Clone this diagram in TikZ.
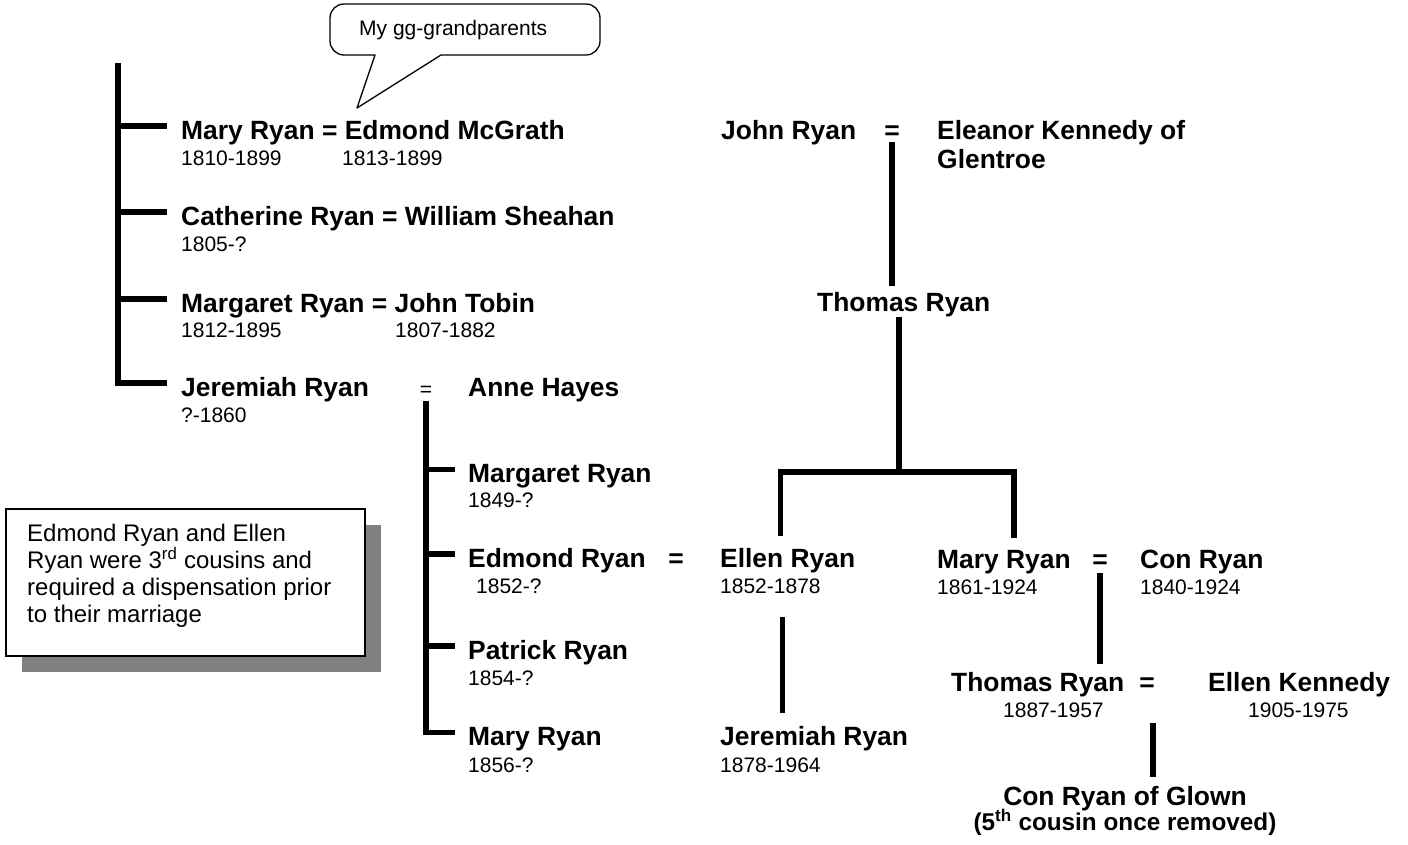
\documentclass[tikz,border=0pt]{standalone}
\usepackage{fontspec}
\setmainfont{Liberation Sans}
\usetikzlibrary{shadows}

\tikzset{
  person/.style={anchor=base west, inner sep=0pt, font=\fontsize{26.4}{29}\selectfont\bfseries},
  years/.style={anchor=base west, inner sep=0pt, font=\fontsize{21}{24}\selectfont},
  wed/.style={anchor=base, inner sep=0pt, font=\fontsize{26.4}{29}\selectfont\bfseries},
  kin/.style={line width=5.5pt},
}

\begin{document}
\begin{tikzpicture}[x=1pt, y=-1pt]
%\draw[help lines, step=100] (0,0) grid (1408,844);
\useasboundingbox (0,0) rectangle (1408,844);
%%%%%%%%%%%%%%%%%%%%%%%%%%%%%%% speech bubble
\coordinate (tip) at (357,108);
\draw[line width=1.3pt, line join=round] (375,55) -- (tip) -- (441,55) [rounded corners=14pt] -- (600,55) -- (600,4) -- (330,4) -- (330,55) [sharp corners] -- cycle;
\node(bubble) [years] at (359,35) {My gg-grandparents};
%%%%%%%%%%%%%%%%%%%%%%%%%%%%%%% first generation
\node(mary) [person] at (181,139) {Mary Ryan = Edmond McGrath};
\node(maryD) [years] at (181,165) {1810-1899};
\node(edmMD) [years] at (342,165) {1813-1899};
\node(cath) [person] at (181,225) {Catherine Ryan = William Sheahan};
\node(cathD) [years] at (181,251) {1805-?};
\node(marg) [person] at (181,312) {Margaret Ryan = John Tobin};
\node(margD) [years] at (181,337) {1812-1895};
\node(tobinD) [years] at (395,337) {1807-1882};
\node(jer) [person] at (181,396) {Jeremiah Ryan};
\node(jerD) [years] at (181,422) {?-1860};
\node(eqJ) [years, anchor=base] at (426,396) {=};
\node(anne) [person] at (468,396) {Anne Hayes};
\coordinate (top) at (118,63);
\draw[kin] (top) |- ([shift={(-14,-6)}]jer.west);
\foreach \n in {mary,cath,marg}
  \draw[kin] ([shift={(-63,-6)}]\n.west) -- ([shift={(-14,-6)}]\n.west);
%%%%%%%%%%%%%%%%%%%%%%%%%%%%%%% Jeremiah's children
\node(margR) [person] at (468,482) {Margaret Ryan};
\node(margRD) [years] at (468,507) {1849-?};
\node(edm) [person] at (468,567) {Edmond Ryan};
\node(edmD) [years] at (476,593) {1852-?};
\node(eqE) [wed] at (676,567) {=};
\node(ellen) [person] at (720,567) {Ellen Ryan};
\node(ellenD) [years] at (720,593) {1852-1878};
\node(pat) [person] at (468,659) {Patrick Ryan};
\node(patD) [years] at (468,685) {1854-?};
\node(maryR) [person] at (468,745) {Mary Ryan};
\node(maryRD) [years] at (468,772) {1856-?};
\node(jerJ) [person] at (720,745) {Jeremiah Ryan};
\node(jerJD) [years] at (720,772) {1878-1964};
\draw[kin, shorten <=5pt] (eqJ.south) |- ([shift={(-13,-6)}]maryR.west);
\foreach \n in {margR,edm,pat}
  \draw[kin] ([shift={(-42,-6)}]\n.west) -- ([shift={(-13,-6)}]\n.west);
\coordinate (kidE) at ([xshift=-5pt]ellen.south);
\draw[kin, shorten <=24pt, shorten >=13pt] (kidE |- ellenD.south) -- (kidE |- jerJ.north);
%%%%%%%%%%%%%%%%%%%%%%%%%%%%%%% John Ryan's line
\node(john) [person] at (721,139) {John Ryan};
\node(eqJohn) [wed] at (892,139) {=};
\node(eleanor) [person, anchor=north west, align=left] at (937,120) {Eleanor Kennedy of\\Glentroe};
\node(thomas) [person] at (817,311) {Thomas Ryan};
\draw[kin, shorten <=3pt, shorten >=6pt] (eqJohn.south) -- (eqJohn.south |- thomas.north);
\node(maryC) [person] at (937,568) {Mary Ryan};
\node(maryCD) [years] at (937,594) {1861-1924};
\node(eqM) [wed] at (1100,568) {=};
\node(con) [person] at (1140,568) {Con Ryan};
\node(conD) [years] at (1140,594) {1840-1924};
\coordinate (fork) at (899,472);
\draw[kin] (fork |- thomas.south) -- (fork);
\draw[kin, shorten >=12pt] (fork) -| ([xshift=-7pt]ellen.north);
\draw[kin, shorten >=12pt] (fork) -| ([xshift=10pt]maryC.north);
\node(thomasR) [person] at (951,691) {Thomas Ryan};
\node(thomasRD) [years] at (1003,717) {1887-1957};
\node(eqT) [wed] at (1147,691) {=};
\node(ellenK) [person] at (1208,691) {Ellen Kennedy};
\node(ellenKD) [years] at (1248,717) {1905-1975};
\node(conG) [person, anchor=north, align=center] at (1125,786) {Con Ryan of Glown\\[-4pt]{\fontsize{24.3}{26}\selectfont (5\textsuperscript{th} cousin once removed)}};
\draw[kin, shorten <=5pt, shorten >=8pt] (eqM.south) -- (eqM.south |- thomasR.north);
\coordinate (kidT) at ([xshift=6pt]eqT.south);
\draw[kin, shorten <=6pt, shorten >=9pt] (kidT |- thomasRD.south) -- (kidT |- conG.north);
%%%%%%%%%%%%%%%%%%%%%%%%%%%%%%% note
\node(note) [draw, line width=1.5pt, fill=white, minimum width=359pt, minimum height=147pt, anchor=north west, inner sep=0pt, general shadow={fill=gray, shadow xshift=16pt, shadow yshift=-16pt}] at (5,508) {};
\node(noteText) [anchor=base west, inner sep=0pt, font=\fontsize{24}{27.3}\selectfont] at (27,541) {\parbox[t]{330pt}{Edmond Ryan and Ellen\\Ryan were 3\textsuperscript{rd} cousins and\\required a dispensation prior\\to their marriage}};
\end{tikzpicture}
\end{document}
